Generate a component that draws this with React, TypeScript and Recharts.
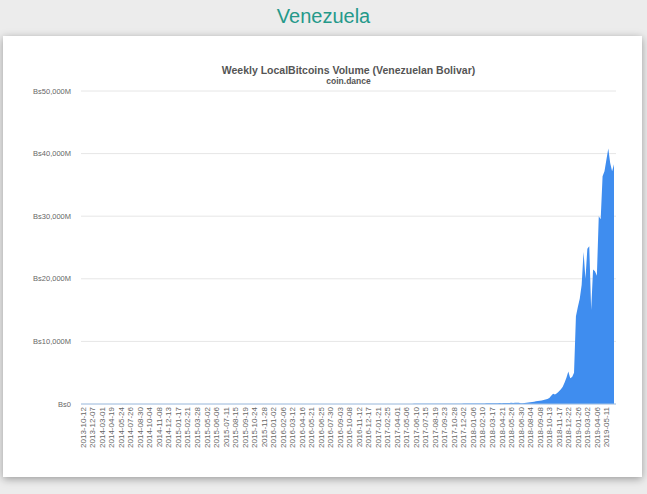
import React from "react";
import { AreaChart, Area, XAxis, YAxis, CartesianGrid } from "recharts";

// Week start labels shown on the x axis (every 5th weekly point)
const TICK_LABELS = [
  "2013-10-12", "2013-12-07", "2014-03-01", "2014-04-19", "2014-05-24", "2014-07-26",
  "2014-08-30", "2014-10-04", "2014-11-08", "2014-12-13", "2015-01-17", "2015-02-21",
  "2015-03-28", "2015-05-02", "2015-06-06", "2015-07-11", "2015-08-15", "2015-09-19",
  "2015-10-24", "2015-11-28", "2016-01-02", "2016-02-06", "2016-03-12", "2016-04-16",
  "2016-05-21", "2016-06-25", "2016-07-30", "2016-09-03", "2016-10-08", "2016-11-12",
  "2016-12-17", "2017-01-21", "2017-02-25", "2017-04-01", "2017-05-06", "2017-06-10",
  "2017-07-15", "2017-08-19", "2017-09-23", "2017-10-28", "2017-12-02", "2018-01-06",
  "2018-02-10", "2018-03-17", "2018-04-21", "2018-05-26", "2018-06-30", "2018-08-04",
  "2018-09-08", "2018-10-13", "2018-11-17", "2018-12-22", "2019-01-26", "2019-03-02",
  "2019-04-06", "2019-05-11",
];

// Weekly volume, millions of Bolivar (one value per week)
const VOLUME_M = [
  0.002, 0.003, 0.002, 0.004, 0.003, 0.005, 0.004, 0.006, 0.005, 0.007,
  0.006, 0.008, 0.007, 0.009, 0.01, 0.009, 0.012, 0.011, 0.013, 0.015,
  0.014, 0.017, 0.016, 0.019, 0.021, 0.02, 0.023, 0.025, 0.024, 0.028,
  0.03, 0.029, 0.033, 0.035, 0.038, 0.036, 0.041, 0.044, 0.043, 0.048,
  0.05, 0.055, 0.053, 0.06, 0.064, 0.062, 0.07, 0.075, 0.073, 0.08,
  0.085, 0.09, 0.088, 0.1, 0.11, 0.105, 0.12, 0.13, 0.125, 0.14,
  0.15, 0.16, 0.155, 0.17, 0.19, 0.18, 0.2, 0.22, 0.21, 0.24,
  0.26, 0.25, 0.28, 0.3, 0.29, 0.33, 0.35, 0.34, 0.38, 0.4,
  0.42, 0.45, 0.44, 0.5, 0.53, 0.52, 0.58, 0.62, 0.6, 0.66,
  0.7, 0.68, 0.75, 0.8, 0.78, 0.85, 0.9, 0.88, 0.95, 1.0,
  1.05, 1.1, 1.08, 1.2, 1.25, 1.22, 1.35, 1.4, 1.38, 1.5,
  1.6, 1.55, 1.7, 1.8, 1.75, 1.9, 2.0, 1.95, 2.1, 2.2,
  2.3, 2.25, 2.45, 2.6, 2.55, 2.75, 2.9, 2.85, 3.1, 3.3,
  3.2, 3.5, 3.7, 3.6, 3.9, 4.1, 4.0, 4.4, 4.7, 4.6,
  5.0, 5.3, 5.2, 5.7, 6.0, 5.9, 6.5, 6.9, 6.8, 7.4,
  7.8, 7.6, 8.3, 8.8, 8.6, 9.4, 10, 9.8, 10.7, 11.4,
  11.1, 12.1, 12.9, 12.6, 13.8, 14.6, 14.3, 15.6, 16.5, 16.2,
  17.7, 18.8, 18.4, 20, 21.3, 20.9, 22.8, 24.2, 23.7, 25.8,
  27.4, 26.8, 29.2, 31, 30.4, 33.1, 35.2, 34.5, 37.6, 40,
  39, 42.5, 45.2, 44.3, 48.2, 51.3, 50.2, 54.7, 58.2, 57,
  62, 66, 64.7, 70.4, 75, 73.4, 80, 85, 83.3, 90.6,
  96.4, 94.4, 103, 109, 107, 116, 124, 121, 132, 140,
  138, 150, 160, 156, 170, 182, 178, 195, 210, 205,
  100, 120, 150, 180, 220, 260, 300, 360, 420, 480,
  520, 560, 620, 700, 800, 950, 1300, 1650, 1500, 1700,
  2000, 2300, 2700, 3400, 4200, 5200, 4100, 4300, 5000, 14000,
  15500, 16800, 19000, 24300, 20000, 24800, 25200, 15000, 21500, 21200,
  20500, 30000, 29500, 36400, 37200, 39000, 40800, 38500, 37200, 38300,
];

const Y_TICKS = [0, 10000, 20000, 30000, 40000, 50000];

const data = VOLUME_M.map((v, i) => ({ i, v }));

const AREA_COLOR = "#3f8def";
const FONT = "'Liberation Sans', Arial, sans-serif";

const fmtY = (v: number) => (v === 0 ? "Bs0" : `Bs${v.toLocaleString("en-US")}M`);

const XTick = (props: any) => {
  const { x, y, payload } = props;
  const label = TICK_LABELS[Math.round(payload.value / 5)] ?? "";
  return (
    <text
      x={x}
      y={y}
      transform={`rotate(-90 ${x} ${y})`}
      textAnchor="end"
      dy="0.35em"
      fontSize={8}
      fill="#666"
      fontFamily={FONT}
    >
      {label}
    </text>
  );
};

export default function App() {
  return (
    <div
      style={{
        position: "absolute",
        left: 0,
        top: 0,
        width: 647,
        height: 494,
        background: "#ececec",
        overflow: "hidden",
        fontFamily: FONT,
      }}
    >
      <div
        style={{
          position: "absolute",
          left: 0,
          top: 3,
          width: 647,
          textAlign: "center",
          fontSize: 20,
          color: "#25998a",
          lineHeight: "26px",
        }}
      >
        Venezuela
      </div>
      <div
        style={{
          position: "absolute",
          left: 3,
          top: 36,
          width: 639,
          height: 441,
          background: "#fff",
          boxShadow: "0 2px 8px rgba(0,0,0,0.35)",
        }}
      />
      <div
        style={{
          position: "absolute",
          left: 81,
          width: 535,
          top: 64,
          textAlign: "center",
          fontSize: 10.5,
          fontWeight: "bold",
          color: "#555",
          lineHeight: "13px",
        }}
      >
        Weekly LocalBitcoins Volume (Venezuelan Bolivar)
      </div>
      <div
        style={{
          position: "absolute",
          left: 81,
          width: 535,
          top: 76,
          textAlign: "center",
          fontSize: 8.5,
          fontWeight: "bold",
          color: "#555",
          lineHeight: "10px",
        }}
      >
        coin.dance
      </div>
      <div style={{ position: "absolute", left: 0, top: 0 }}>
        <AreaChart
          width={647}
          height={494}
          data={data}
          margin={{ top: 91, right: 31, bottom: 0, left: 0 }}
        >
          <CartesianGrid horizontal vertical={false} stroke="#e6e6e6" />
          <XAxis
            dataKey="i"
            type="category"
            interval={4}
            tick={<XTick />}
            tickLine={false}
            tickSize={0}
            tickMargin={3}
            axisLine={{ stroke: "#a3c2e6" }}
            height={90}
            padding={{ left: 2, right: 2 }}
          />
          <YAxis
            domain={[0, 50000]}
            ticks={Y_TICKS}
            tickFormatter={fmtY}
            axisLine={false}
            tickLine={false}
            tickSize={0}
            tickMargin={10}
            width={81}
            tick={{ fontSize: 7.5, fill: "#666", fontFamily: FONT }}
          />
          <Area
            type="linear"
            dataKey="v"
            stroke="none"
            fill={AREA_COLOR}
            fillOpacity={1}
            isAnimationActive={false}
            dot={false}
            activeDot={false}
          />
        </AreaChart>
      </div>
    </div>
  );
}
